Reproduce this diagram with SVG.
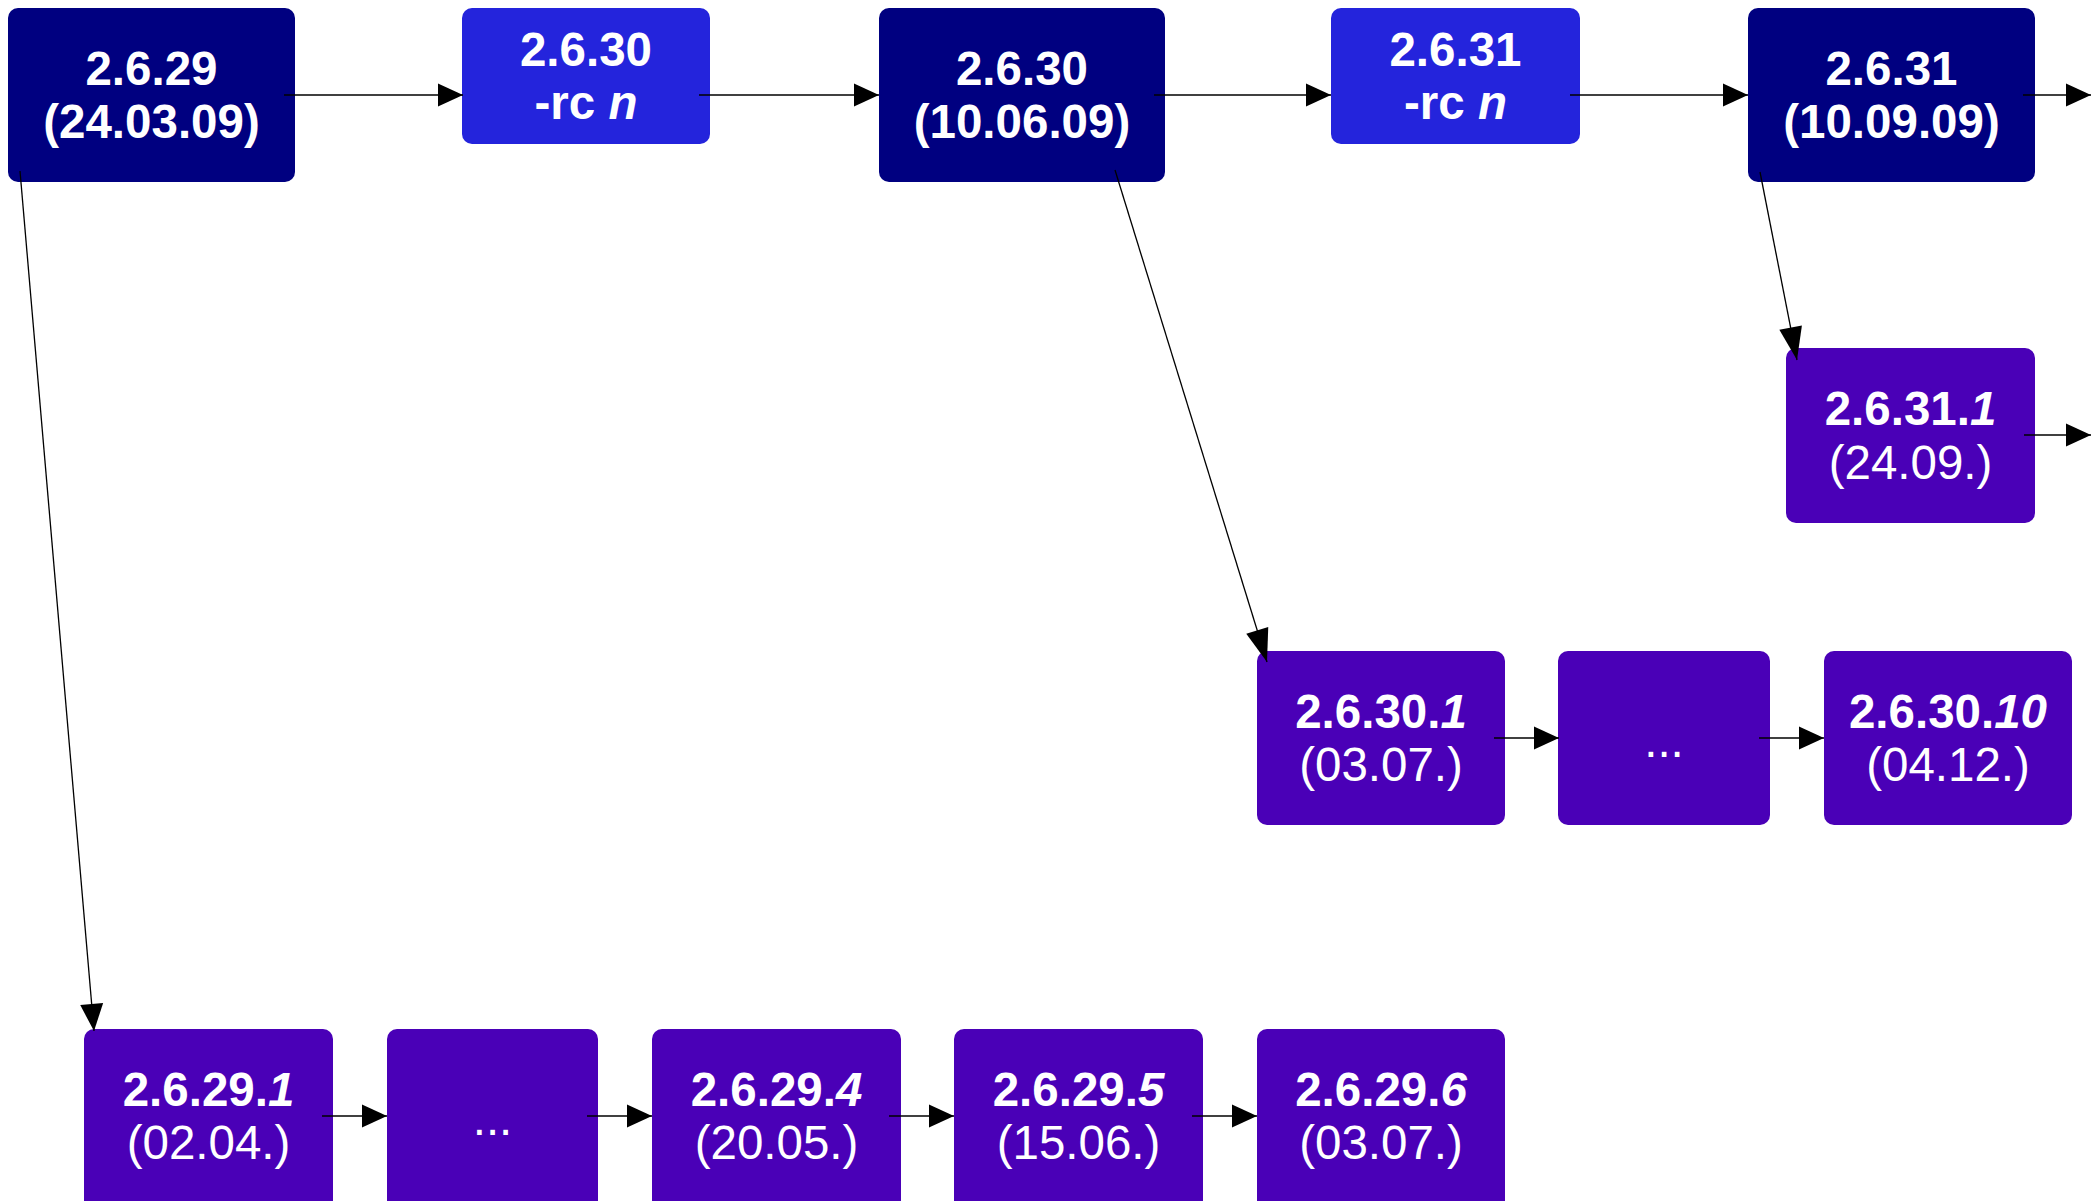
<svg xmlns="http://www.w3.org/2000/svg" width="2094" height="1201" viewBox="0 0 2094 1201">
<style>
.n{fill:#000080}
.rc{fill:#2424DC}
.p{fill:#4A00B7}
text{font-family:"Liberation Sans",Arial,sans-serif;font-size:47.5px;fill:#ffffff;text-anchor:middle}
.b{font-weight:bold}
.i{font-style:italic}
.e{stroke:#000;stroke-width:1.3;fill:none;marker-end:url(#ah)}
.d{marker-end:url(#ahl)}
.m{marker-end:url(#ahm)}
</style>
<defs>
<marker id="ah" markerUnits="userSpaceOnUse" markerWidth="25" markerHeight="23" refX="25" refY="11.5" orient="auto" overflow="visible">
<path d="M0,0 L25,11.5 L0,23 z" fill="#000"/>
</marker>
<marker id="ahl" markerUnits="userSpaceOnUse" markerWidth="33" markerHeight="23" refX="33" refY="11.5" orient="auto" overflow="visible">
<path d="M0,0 L33,11.5 L0,23 z" fill="#000"/>
</marker>
<marker id="ahm" markerUnits="userSpaceOnUse" markerWidth="27" markerHeight="23" refX="27" refY="11.5" orient="auto" overflow="visible">
<path d="M0,0 L27,11.5 L0,23 z" fill="#000"/>
</marker>
</defs>
<rect width="2094" height="1201" fill="#fff"/>
<g id="n2629">
<rect class="n" x="8" y="8" width="287" height="174" rx="10"/>
<text class="b" x="151.5" y="85">2.6.29</text>
<text class="b" x="151.5" y="138">(24.03.09)</text>
</g>
<g id="n2630rc">
<rect class="rc" x="462" y="8" width="248" height="136" rx="10"/>
<text class="b" x="586" y="66">2.6.30</text>
<text class="b" x="586" y="119">-rc <tspan class="i">n</tspan></text>
</g>
<g id="n2630">
<rect class="n" x="879" y="8" width="286" height="174" rx="10"/>
<text class="b" x="1022" y="85">2.6.30</text>
<text class="b" x="1022" y="138">(10.06.09)</text>
</g>
<g id="n2631rc">
<rect class="rc" x="1331" y="8" width="249" height="136" rx="10"/>
<text class="b" x="1455.5" y="66">2.6.31</text>
<text class="b" x="1455.5" y="119">-rc <tspan class="i">n</tspan></text>
</g>
<g id="n2631">
<rect class="n" x="1748" y="8" width="287" height="174" rx="10"/>
<text class="b" x="1891.5" y="85">2.6.31</text>
<text class="b" x="1891.5" y="138">(10.09.09)</text>
</g>
<g id="n26311">
<rect class="p" x="1786" y="348" width="249" height="175" rx="10"/>
<text class="b" x="1910.5" y="425">2.6.31.<tspan class="i">1</tspan></text>
<text x="1910.5" y="479">(24.09.)</text>
</g>
<g id="n26301">
<rect class="p" x="1257" y="651" width="248" height="174" rx="10"/>
<text class="b" x="1381" y="728">2.6.30.<tspan class="i">1</tspan></text>
<text x="1381" y="781">(03.07.)</text>
</g>
<g id="n2630dots">
<rect class="p" x="1558" y="651" width="212" height="174" rx="10"/>
<text x="1664" y="757">...</text>
</g>
<g id="n263010">
<rect class="p" x="1824" y="651" width="248" height="174" rx="10"/>
<text class="b" x="1948" y="728">2.6.30.<tspan class="i">10</tspan></text>
<text x="1948" y="781">(04.12.)</text>
</g>
<g id="n26291">
<rect class="p" x="84" y="1029" width="249" height="190" rx="10"/>
<text class="b" x="208.5" y="1106">2.6.29.<tspan class="i">1</tspan></text>
<text x="208.5" y="1159">(02.04.)</text>
</g>
<g id="n2629dots">
<rect class="p" x="387" y="1029" width="211" height="190" rx="10"/>
<text x="492.5" y="1135">...</text>
</g>
<g id="n26294">
<rect class="p" x="652" y="1029" width="249" height="190" rx="10"/>
<text class="b" x="776.5" y="1106">2.6.29.<tspan class="i">4</tspan></text>
<text x="776.5" y="1159">(20.05.)</text>
</g>
<g id="n26295">
<rect class="p" x="954" y="1029" width="249" height="190" rx="10"/>
<text class="b" x="1078.5" y="1106">2.6.29.<tspan class="i">5</tspan></text>
<text x="1078.5" y="1159">(15.06.)</text>
</g>
<g id="n26296">
<rect class="p" x="1257" y="1029" width="248" height="190" rx="10"/>
<text class="b" x="1381" y="1106">2.6.29.<tspan class="i">6</tspan></text>
<text x="1381" y="1159">(03.07.)</text>
</g>
<g id="connectors">
<path class="e" d="M284,95 L463,95"/>
<path class="e" d="M699,95 L879,95"/>
<path class="e" d="M1154,95 L1331,95"/>
<path class="e" d="M1570,95 L1748,95"/>
<path class="e" d="M2023,95 L2091,95"/>
<path class="e d" d="M1760,172 L1797,360"/>
<path class="e" d="M2024,435 L2091,435"/>
<path class="e d" d="M1115,170 L1267,662"/>
<path class="e" d="M1494,738 L1559,738"/>
<path class="e" d="M1759,738 L1824,738"/>
<path class="e m" d="M20,171 L94,1031"/>
<path class="e" d="M322,1116 L387,1116"/>
<path class="e" d="M587,1116 L652,1116"/>
<path class="e" d="M889,1116 L954,1116"/>
<path class="e" d="M1192,1116 L1257,1116"/>
</g>
</svg>
